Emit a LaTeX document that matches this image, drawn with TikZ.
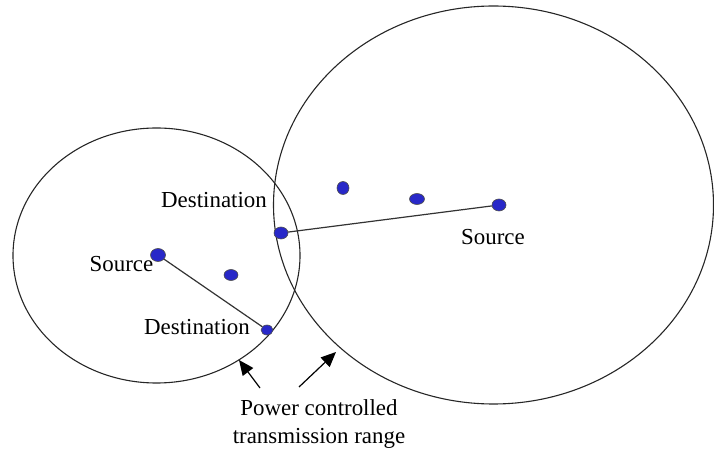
\documentclass[tikz,border=0pt]{standalone}
\usepackage{fontspec}
\setmainfont{Liberation Serif}
\usetikzlibrary{arrows.meta,shapes.geometric}
\begin{document}
\begin{tikzpicture}[x=1bp,y=-1bp,
  txrange/.style={draw=black!85,line width=1.1bp},
  hostdot/.style={ellipse,draw=black!70,fill={rgb,255:red,40;green,40;blue,200},line width=0.6bp,minimum width=14bp,minimum height=12bp,inner sep=0pt},
  linkline/.style={draw=black!80,line width=1.2bp},
  lbl/.style={font=\fontsize{23}{27}\selectfont,inner sep=0pt},
  pointer/.style={draw=black,line width=1.2bp,-{Triangle[length=15bp,width=13bp]}}]
\useasboundingbox (0,0) rectangle (714,455);
% transmission ranges
\draw[txrange] (156.5,255.5) ellipse[x radius=143.5,y radius=127.5];
\draw[txrange] (493.5,205) ellipse[x radius=220,y radius=199];
% nodes
\node[hostdot,minimum width=15bp,minimum height=13bp] (s1) at (158,255) {};
\node[hostdot,minimum width=14bp,minimum height=11bp] (m1) at (231,275) {};
\node[hostdot,minimum width=12bp,minimum height=10bp] (d1) at (267,330) {};
\node[hostdot] (d2) at (281,233) {};
\node[hostdot,minimum width=12bp,minimum height=13bp] (m2) at (343,188) {};
\node[hostdot,minimum width=15bp,minimum height=11bp] (m3) at (417,199) {};
\node[hostdot] (s2) at (499,205) {};
% links
\draw[linkline] (s1) -- (d1);
\draw[linkline] (d2) -- (s2);
% labels
\node[lbl] (ld2) at (214,200) {Destination};
\node[lbl] (ls1) at (121.5,264) {Source};
\node[lbl] (ld1) at (197,327) {Destination};
\node[lbl] (ls2) at (493,237) {Source};
\node[lbl,align=center] (cap) at (319,424) {Power controlled\\[1bp]transmission range};
% pointers
\coordinate (t1) at (260,388);
\coordinate (h1) at (239,360);
\coordinate (t2) at (299,387);
\coordinate (h2) at (336,352);
\draw[pointer] (t1) -- (h1);
\draw[pointer] (t2) -- (h2);
\end{tikzpicture}
\end{document}
